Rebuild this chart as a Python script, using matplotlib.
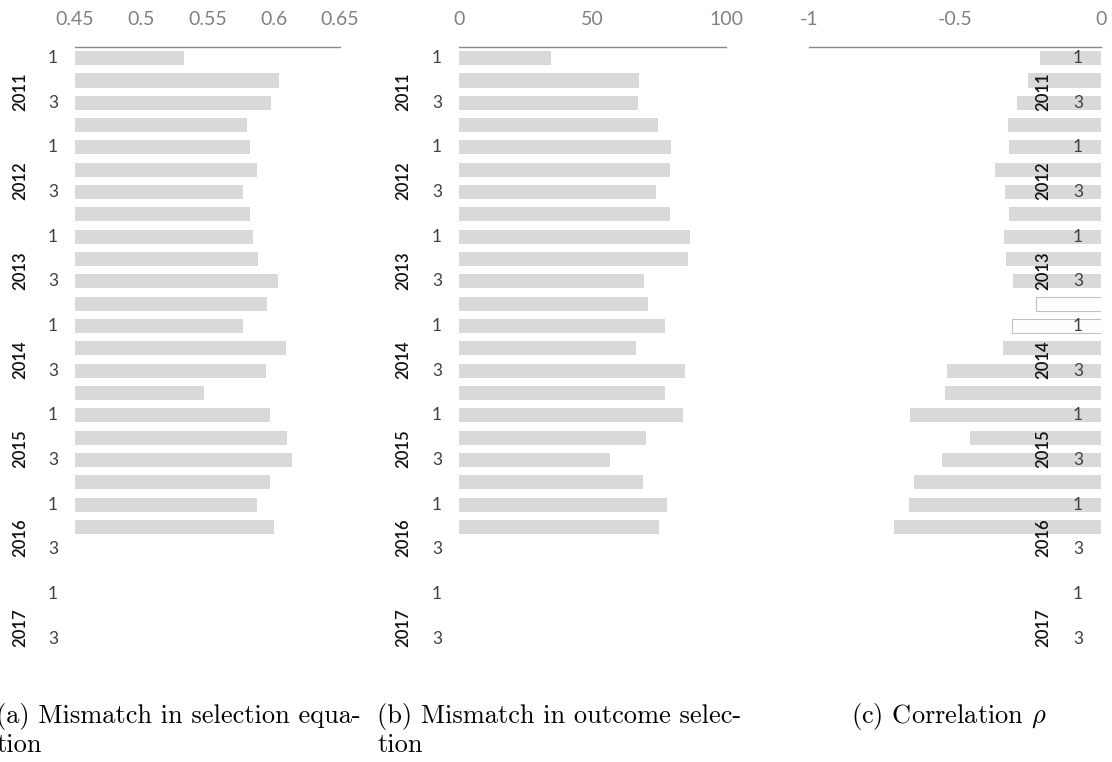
import matplotlib
matplotlib.use("Agg")
import matplotlib.pyplot as plt
from matplotlib.transforms import blended_transform_factory

# ---------------- data ----------------
years = ["2011", "2012", "2013", "2014", "2015", "2016", "2017"]
quarter_labels = ["1", "", "3", ""]

sel_mismatch = [0.532, 0.604, 0.598, 0.580, 0.582, 0.587, 0.577, 0.582,
                0.584, 0.588, 0.603, 0.595, 0.577, 0.609, 0.594, 0.547,
                0.597, 0.610, 0.614, 0.597, 0.587, 0.600]
outcome_mismatch = [34.5, 67.3, 66.9, 74.5, 79.3, 78.9, 73.8, 78.9,
                    86.5, 85.8, 69.2, 70.8, 77.0, 66.2, 84.6, 77.3,
                    83.9, 70.0, 56.6, 68.9, 77.8, 75.0]
rho = [-0.208, -0.251, -0.287, -0.318, -0.314, -0.363, -0.328, -0.314,
       -0.331, -0.325, -0.301, -0.223, -0.306, -0.336, -0.526, -0.533,
       -0.653, -0.448, -0.543, -0.642, -0.656, -0.709]
rho_filled = [True] * 11 + [False, False] + [True] * 9

xticks_a = [0.45, 0.5, 0.55, 0.6, 0.65]
xticklabels_a = ["0.45", "0.5", "0.55", "0.6", "0.65"]
xticks_b = [0, 50, 100]
xticklabels_b = ["0", "50", "100"]
xticks_c = [-1, -0.5, 0]
xticklabels_c = ["-1", "-0.5", "0"]

captions = [["(a) Mismatch in selection equa-", "tion"],
            ["(b) Mismatch in outcome selec-", "tion"],
            [r"(c) Correlation $\rho$"]]

# ---------------- style ----------------
plt.rcParams["mathtext.fontset"] = "cm"
W, H = 1112, 762
fig = plt.figure(figsize=(W / 100, H / 100), dpi=100)

BAR = "#d9d9d9"
TICKC = "#808080"
LABC = "#404040"
FONT = "Lato"

n_rows = len(years) * 4
top_px, bot_px = 47, 672


def make_axes(left_px, right_px):
    return fig.add_axes([left_px / W, 1 - bot_px / H,
                         (right_px - left_px) / W, (bot_px - top_px) / H])


def style(ax, xlim, ticks, labels, q_x, y_x):
    ax.set_xlim(*xlim)
    ax.set_ylim(n_rows - 0.5, -0.5)
    for s in ["left", "right", "bottom"]:
        ax.spines[s].set_visible(False)
    ax.spines["top"].set_color("#8a8a8a")
    ax.spines["top"].set_linewidth(1.0)
    ax.xaxis.tick_top()
    ax.set_xticks(ticks)
    ax.set_xticklabels(labels, fontsize=14, color=TICKC, family=FONT)
    ax.tick_params(axis="x", length=0, pad=14)
    ax.set_yticks([])
    tr = blended_transform_factory(ax.transAxes, ax.transData)
    for yi, yr in enumerate(years):
        for qi, q in enumerate(quarter_labels):
            if q:
                ax.text(q_x, yi * 4 + qi, q, transform=tr, ha="center",
                        va="center", fontsize=12.5, color=LABC, family=FONT)
        ax.text(y_x, yi * 4 + 1.5, yr, transform=tr, ha="center",
                va="center", rotation=90, fontsize=12, color="#111111",
                family=FONT, fontweight="semibold")


rows = list(range(len(sel_mismatch)))
h = 0.63

# panel a
ax1 = make_axes(75, 340)
ax1.barh(rows, sel_mismatch, height=h, color=BAR)
style(ax1, (0.45, 0.65), xticks_a, xticklabels_a, (53 - 75) / 265, (20 - 75) / 265)

# panel b
ax2 = make_axes(459, 726)
ax2.barh(rows, outcome_mismatch, height=h, color=BAR)
style(ax2, (0, 100), xticks_b, xticklabels_b, (437 - 459) / 267, (403 - 459) / 267)

# panel c
ax3 = make_axes(809, 1101)
for r, v, f in zip(rows, rho, rho_filled):
    if f:
        ax3.barh(r, v, height=h, color=BAR, zorder=1)
    else:
        ax3.barh(r, v, height=h, facecolor="white", edgecolor="#c0c0c0",
                 linewidth=0.8, zorder=1)
style(ax3, (-1, 0), xticks_c, xticklabels_c, (1078 - 809) / 292, (1043 - 809) / 292)

# captions (one text per line)
cap_x = [-4, 377, 851]
line_y = [723, 752]
for x, lines in zip(cap_x, captions):
    for ly, line in zip(line_y, lines):
        fig.text(x / W, 1 - ly / H, line, ha="left", va="baseline",
                 fontsize=19, family="cmr10")

fig.savefig("out.png", dpi=100)
